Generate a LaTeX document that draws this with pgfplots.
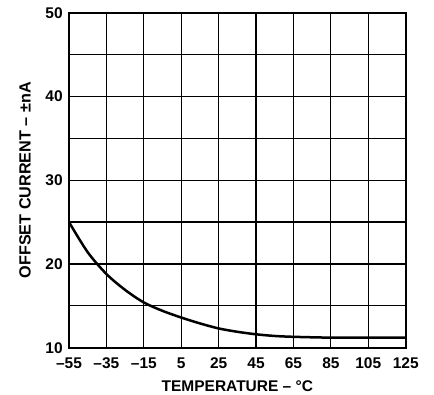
\documentclass[border=0pt]{standalone}
\usepackage{pgfplots}
\pgfplotsset{compat=1.18}
\usepackage{fontspec}
\setmainfont{Liberation Sans}
\begin{document}
\fontsize{15.5}{18}\selectfont\bfseries
\begin{tikzpicture}[x=1pt,y=1pt]
\begin{axis}[
  scale only axis,
  width=336.7pt, height=335pt,
  at={(0,0)}, anchor=south west,
  xmin=-55, xmax=125, ymin=10, ymax=50,
  xtick={-55,-35,-15,5,25,45,65,85,105,125},
  xticklabels={–55,–35,–15,5,25,45,65,85,105,125},
  ytick={10,20,30,40,50},
  yticklabels={10,20,30,40,50},
  minor ytick={15,25,35,45},
  grid=both,
  major grid style={black, line width=1.2pt},
  minor grid style={black, line width=1.2pt},
  axis line style={black, line width=2pt},
  major tick length=0pt, minor tick length=0pt,
  tick style={draw=none},
  xticklabel style={font=\fontsize{15.5}{18}\selectfont\bfseries, yshift=-5pt},
  yticklabel style={font=\fontsize{15.5}{18}\selectfont\bfseries, xshift=-1pt},
  xlabel={TEMPERATURE – °C},
  ylabel={OFFSET CURRENT – ±nA},
  xlabel style={font=\fontsize{15.5}{18}\selectfont\bfseries, yshift=-1pt},
  ylabel style={font=\fontsize{16.2}{18}\selectfont\bfseries, yshift=4pt},
  clip=true,
]
\addplot[black, line width=2.5pt, smooth, tension=0.5] coordinates {
(-55,25.0) (-45,21.4) (-35,18.8) (-25,16.9) (-15,15.4) (-5,14.4) (5,13.6) (15,12.9) (25,12.3) (35,11.9) (45,11.6) (55,11.4) (65,11.3) (85,11.2) (105,11.2) (125,11.2)
};
\end{axis}
\pgfresetboundingbox
\path[use as bounding box] (-69,-46.3) rectangle (365,347.7);
\end{tikzpicture}
\end{document}
